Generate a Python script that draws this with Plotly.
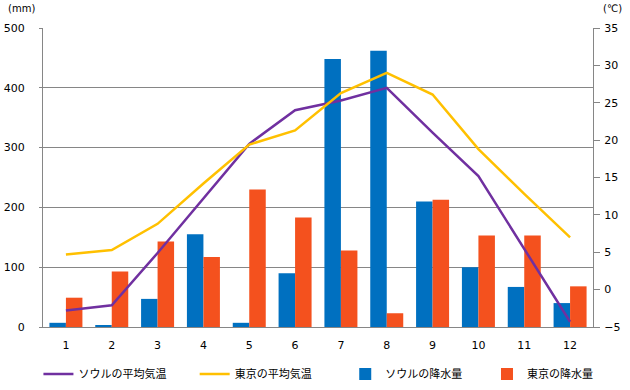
import plotly.graph_objects as go

months = ["1", "2", "3", "4", "5", "6", "7", "8", "9", "10", "11", "12"]
seoul_precip = [7, 2, 47, 155, 7, 90, 448, 462, 210, 100, 67, 40]
tokyo_precip = [49, 93, 143, 117, 230, 183, 128, 23, 213, 153, 153, 68]
seoul_temp = [-2.8, -2.1, 4.9, 12.2, 19.5, 24.0, 25.3, 27.0, 21.0, 15.2, 5.4, -4.3]
tokyo_temp = [4.7, 5.3, 8.8, 14.2, 19.4, 21.3, 26.3, 29.0, 26.1, 18.8, 12.8, 7.0]

names = ["ソウルの平均気温", "東京の平均気温", "ソウルの降水量", "東京の降水量"]
colors = ["#7030A0", "#FFC000", "#0070C0", "#F4511E"]
legend_x = [0.061, 0.309, 0.548, 0.773]

FONT = "DejaVu Sans, Noto Sans CJK JP, sans-serif"

fig = go.Figure()
fig.add_trace(go.Scatter(x=months, y=seoul_temp, name=names[0], mode="lines",
                         line=dict(color=colors[0], width=2.5), yaxis="y2", legend="legend"))
fig.add_trace(go.Scatter(x=months, y=tokyo_temp, name=names[1], mode="lines",
                         line=dict(color=colors[1], width=2.5), yaxis="y2", legend="legend2"))
fig.add_trace(go.Bar(x=months, y=seoul_precip, name=names[2], marker_color=colors[2],
                     marker_line_width=0, legend="legend3"))
fig.add_trace(go.Bar(x=months, y=tokyo_precip, name=names[3], marker_color=colors[3],
                     marker_line_width=0, legend="legend4"))

grid = "#868686"


def leg(x):
    return dict(orientation="h", x=x, y=0.041, xref="container", yref="container",
                xanchor="left", yanchor="middle", itemwidth=30,
                bgcolor="rgba(0,0,0,0)", font=dict(size=11))


fig.update_layout(
    width=630, height=390,
    margin=dict(l=43, r=37, t=28, b=63, autoexpand=False),
    paper_bgcolor="white", plot_bgcolor="white",
    font=dict(family=FONT, size=11, color="#000000"),
    barmode="group", bargap=0.28, bargroupgap=0,
    showlegend=True,
    legend=leg(legend_x[0]),
    legend2=leg(legend_x[1]),
    legend3=leg(legend_x[2]),
    legend4=leg(legend_x[3]),
    xaxis=dict(showline=True, linecolor=grid, linewidth=1, ticks="",
               showgrid=False, ticklabelstandoff=8, automargin=False),
    yaxis=dict(range=[0, 500], dtick=100, showgrid=True, gridcolor=grid, gridwidth=1,
               showline=True, linecolor=grid, linewidth=1, ticks="outside",
               ticklen=3, tickcolor=grid, zeroline=False, ticklabelstandoff=12,
               automargin=False),
    yaxis2=dict(range=[-5, 35], dtick=5, overlaying="y", side="right", showgrid=False,
                showline=True, linecolor=grid, linewidth=1, ticks="outside",
                ticklen=6, tickcolor=grid, zeroline=False, ticklabelstandoff=2,
                automargin=False),
    annotations=[
        dict(text="(mm)", xref="paper", yref="paper", x=-0.04, y=1.0, yshift=12,
             xanchor="center", yanchor="bottom", showarrow=False, font=dict(size=10)),
        dict(text="(℃)", xref="paper", yref="paper", x=1.035, y=1.0, yshift=12,
             xanchor="center", yanchor="bottom", showarrow=False, font=dict(size=10)),
    ],
)

fig.write_html("out.html", config={"displayModeBar": False},
               post_script="document.body.style.margin='0px';")
